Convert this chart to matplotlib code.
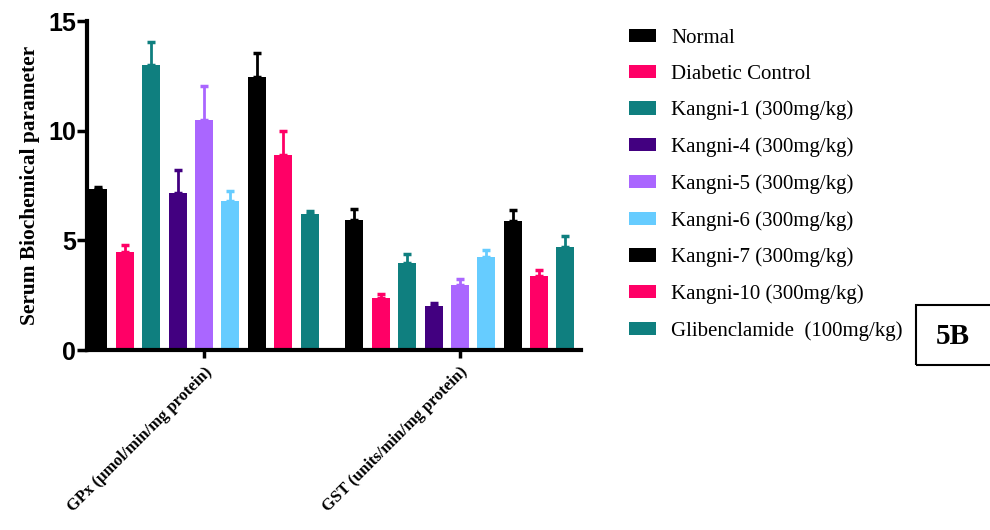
import matplotlib
matplotlib.use("Agg")
import matplotlib.pyplot as plt
import numpy as np
from matplotlib.patches import Rectangle

groups = ["Normal", "Diabetic Control", "Kangni-1 (300mg/kg)", "Kangni-4 (300mg/kg)",
          "Kangni-5 (300mg/kg)", "Kangni-6 (300mg/kg)", "Kangni-7 (300mg/kg)",
          "Kangni-10 (300mg/kg)", "Glibenclamide  (100mg/kg)"]
params = ["GPx (µmol/min/mg protein)", "GST (units/min/mg protein)"]

gpx_mean = [7.33, 4.45, 13.0, 7.17, 10.49, 6.78, 12.43, 8.89, 6.2]
gpx_err = [0.12, 0.34, 1.03, 1.04, 1.55, 0.47, 1.13, 1.10, 0.15]
gst_mean = [5.93, 2.37, 3.95, 2.0, 2.96, 4.26, 5.9, 3.36, 4.70]
gst_err = [0.50, 0.18, 0.44, 0.14, 0.28, 0.30, 0.48, 0.29, 0.48]

colors = ["#000000", "#FF0066", "#0F7F7F", "#420080", "#AA66FF",
          "#66CCFF", "#000000", "#FF0066", "#0F7F7F"]

fig = plt.figure(figsize=(9.9, 5.3), dpi=100)
ax = fig.add_axes([87 / 990, 180 / 530, 494 / 990, 329 / 530])

x = np.arange(len(params))
step = 0.1031
width = 0.0703

for i, name in enumerate(groups):
    pos = x + (i - 4) * step
    vals = [gpx_mean[i], gst_mean[i]]
    errs = [gpx_err[i], gst_err[i]]
    ax.bar(pos, vals, width, color=colors[i], label=name, zorder=2)
    ax.errorbar(pos, vals, yerr=[[0, 0], errs], fmt="none", ecolor=colors[i],
                elinewidth=2, capsize=3, capthick=2.5, zorder=1)

ax.set_xlim(-0.457, 1.473)
ax.set_ylim(0, 15)
ax.set_yticks([0, 5, 10, 15])
ax.set_xticks(x)
ax.set_xticklabels(params, rotation=45, ha="right", rotation_mode="anchor",
                   fontfamily="Liberation Serif", fontweight="bold", fontsize=12)
for lab in ax.get_yticklabels():
    lab.set_fontfamily("Liberation Sans")
    lab.set_fontweight("bold")
    lab.set_fontsize(18)

for s in ["top", "right"]:
    ax.spines[s].set_visible(False)
for s in ["left", "bottom"]:
    ax.spines[s].set_linewidth(3)
ax.tick_params(axis="y", length=7, width=2.5, pad=1)
ax.tick_params(axis="x", length=6, width=2.5, pad=4)

ax.set_ylabel("Serum Biochemical parameter", fontfamily="Liberation Serif",
              fontweight="bold", fontsize=15.4, labelpad=6)

leg = fig.legend(loc="upper left", bbox_to_anchor=(610 / 990, 1 - 10 / 530),
                 frameon=False, prop={"family": "Liberation Serif", "size": 15},
                 handlelength=1.3, handleheight=0.6, handletextpad=0.75,
                 labelspacing=0.815)

fig.patches.append(Rectangle((916 / 990, 165 / 530), 80 / 990, 60 / 530,
                             transform=fig.transFigure, fill=False,
                             edgecolor="black", linewidth=1.5))
fig.text(953 / 990, 1 - 337 / 530, "5B", ha="center", va="center",
         fontfamily="Liberation Serif", fontweight="bold", fontsize=21)

fig.savefig("out.png", dpi=100)
